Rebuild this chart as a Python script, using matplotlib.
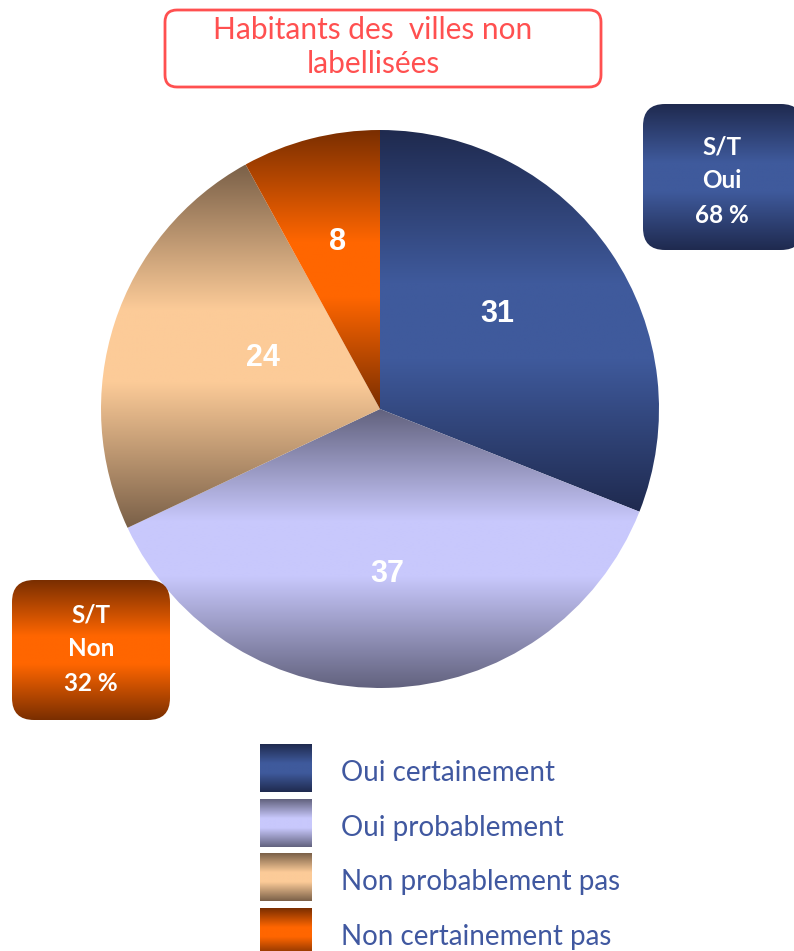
import numpy as np
import matplotlib.pyplot as plt
from matplotlib.patches import FancyBboxPatch, Rectangle
from matplotlib.colors import to_rgb

# donnees
categories = ['Oui certainement', 'Oui probablement', 'Non probablement pas', 'Non certainement pas']
values = [31, 37, 24, 8]
dark_colors = ['#1f2a4f', '#62627e', '#7a6048', '#7a2e00']
light_colors = ['#3f5a9c', '#c8c8fc', '#fccb98', '#ff6600']
title = 'Habitants des  villes non\nlabellisées'

W, H = 794, 951
# positions des etiquettes (pixels)
label_pos = [(497, 314), (387, 574), (263, 358), (338, 242)]


def py(y):
    # coordonnees pixel (haut -> bas) vers coordonnees axes
    return H - y


def gradient(ax, patch, dark, light, extent, z=1.5):
    t = np.linspace(0, 1, 256)
    v = np.clip((1 - np.abs(2 * t - 1)) / 0.8, 0, 1)
    d = np.array(to_rgb(dark))
    l = np.array(to_rgb(light))
    img = d[None, :] * (1 - v[:, None]) + l[None, :] * v[:, None]
    img = img[:, None, :]
    im = ax.imshow(img, extent=extent, aspect='auto', interpolation='bilinear', zorder=z)
    im.set_clip_path(patch)
    return im


fig = plt.figure(figsize=(W / 100, H / 100), dpi=100)
ax = fig.add_axes([0, 0, 1, 1])

# camembert
wedges, texts, autotexts = ax.pie(
    values, startangle=90, counterclock=False, center=(380, py(409)), radius=279,
    autopct=lambda p: f'{p * sum(values) / 100:.0f}', pctdistance=0.6,
    wedgeprops=dict(edgecolor='none'),
    textprops=dict(color='white', fontsize=22, fontweight='bold', family='Liberation Sans'))
for w, dc, lc in zip(wedges, dark_colors, light_colors):
    w.set_facecolor('none')
    b = w.get_path().get_extents()
    gradient(ax, w, dc, lc, [b.x0, b.x1, b.y0, b.y1])
for t, (lx, ly) in zip(autotexts, label_pos):
    t.set_position((lx, py(ly)))
    t.set_zorder(5)

# titre
tbox = FancyBboxPatch((165, py(87)), 436, 77, boxstyle='round,pad=0,rounding_size=12',
                      facecolor='white', edgecolor='#ff5050', linewidth=2)
ax.add_patch(tbox)
ax.text(373, py(47), title, ha='center', va='center', color='#ff5050',
        fontsize=21.5, family='Lato', linespacing=1.3)

# sous-totaux
oui = values[0] + values[1]
non = values[2] + values[3]
boxes = [
    ((643, 104, 160, 146), dark_colors[0], light_colors[0], f'S/T\nOui\n{oui} %', (722, 181)),
    ((12, 580, 158, 140), dark_colors[3], light_colors[3], f'S/T\nNon\n{non} %', (91, 649)),
]
for (x, y, w, h), dc, lc, txt, (tx, ty) in boxes:
    p = FancyBboxPatch((x, py(y + h)), w, h, boxstyle='round,pad=0,rounding_size=22',
                       facecolor='none', edgecolor='none')
    ax.add_patch(p)
    gradient(ax, p, dc, lc, [x, x + w, py(y + h), py(y)])
    ax.text(tx, py(ty), txt, ha='center', va='center', color='white', fontsize=17.5,
            fontweight='bold', family='Lato', linespacing=1.6, zorder=6)

# legende
for i, (cat, dc, lc) in enumerate(zip(categories, dark_colors, light_colors)):
    top = 744 + 54.7 * i
    r = Rectangle((260, py(top + 48)), 52, 48, facecolor='none', edgecolor='none')
    ax.add_patch(r)
    gradient(ax, r, dc, lc, [260, 312, py(top + 48), py(top)])
    ax.text(341, py(top + 37), cat, ha='left', va='baseline', color='#4058a0',
            fontsize=20, family='Lato')

ax.set_xlim(0, W)
ax.set_ylim(0, H)
ax.set_aspect('auto')
ax.axis('off')

fig.savefig('out.png', dpi=100)
